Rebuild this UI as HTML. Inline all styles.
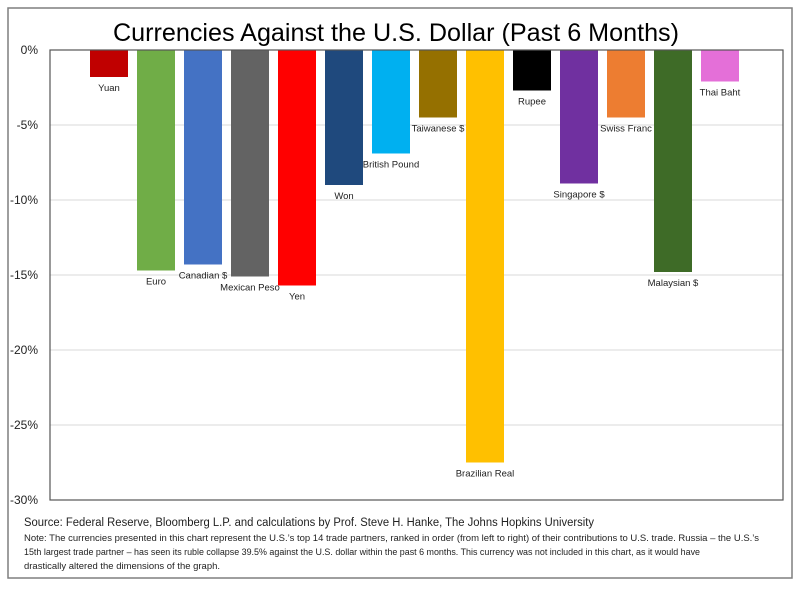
<!DOCTYPE html>
<html><head><meta charset="utf-8"><style>
body{margin:0;background:#fff;font-family:"Liberation Sans",sans-serif}
</style></head><body>
<svg width="800" height="587" xmlns="http://www.w3.org/2000/svg">
<rect x="8" y="8" width="784" height="570" fill="#fff" stroke="#7f7f7f" stroke-width="1.5"/>
<text x="396" y="41" text-anchor="middle" font-size="25" textLength="566" lengthAdjust="spacingAndGlyphs" fill="#000">Currencies Against the U.S. Dollar (Past 6 Months)</text>
<g id="grid"></g>
<g id="bars"></g>
<rect x="50" y="50" width="733" height="450" fill="none" stroke="#555" stroke-width="1.2"/>
<g id="yticks" font-size="12" fill="#222"></g>
<text x="24" y="526" font-size="11.5" textLength="570" lengthAdjust="spacingAndGlyphs" fill="#222">Source: Federal Reserve, Bloomberg L.P. and calculations by Prof. Steve H. Hanke, The Johns Hopkins University</text>
<g font-size="9.6" fill="#222">
<text x="24" y="541" textLength="735" lengthAdjust="spacingAndGlyphs">Note: The currencies presented in this chart represent the U.S.’s top 14 trade partners, ranked in order (from left to right) of their contributions to U.S. trade. Russia – the U.S.’s</text>
<text x="24" y="555" textLength="676" lengthAdjust="spacingAndGlyphs">15th largest trade partner – has seen its ruble collapse 39.5% against the U.S. dollar within the past 6 months. This currency was not included in this chart, as it would have</text>
<text x="24" y="569" textLength="196" lengthAdjust="spacingAndGlyphs">drastically altered the dimensions of the graph.</text>
</g>
</svg>
<script>
const categories=["Yuan","Euro","Canadian $","Mexican Peso","Yen","Won","British Pound","Taiwanese $","Brazilian Real","Rupee","Singapore $","Swiss Franc","Malaysian $","Thai Baht"];
const values=[-1.8,-14.7,-14.3,-15.1,-15.7,-9.0,-6.9,-4.5,-27.5,-2.7,-8.9,-4.5,-14.8,-2.1];
const colors=["#c00000","#70ad47","#4472c4","#636363","#ff0000","#1f497d","#00b0f0","#957000","#ffc000","#000000","#7030a0","#ed7d31","#3e6b27","#e46fd8"];
const yTicks=[0,-5,-10,-15,-20,-25,-30];
const NS="http://www.w3.org/2000/svg";
const y=v=>50+(-v)*15;
const xc=i=>109+i*47;
const grid=document.getElementById('grid'),bars=document.getElementById('bars'),yt=document.getElementById('yticks');
yTicks.forEach(t=>{
 const l=document.createElementNS(NS,'line');
 l.setAttribute('x1',50);l.setAttribute('x2',783);l.setAttribute('y1',y(t));l.setAttribute('y2',y(t));
 l.setAttribute('stroke','#d9d9d9');
 
 
 grid.appendChild(l);
 const tx=document.createElementNS(NS,'text');
 tx.setAttribute('x',38);tx.setAttribute('y',y(t)+4);tx.setAttribute('text-anchor','end');
 tx.textContent=t+'%';
 
 
 yt.appendChild(tx);
});
categories.forEach((c,i)=>{
 const r=document.createElementNS(NS,'rect');
 r.setAttribute('x',xc(i)-19);r.setAttribute('width',38);
 r.setAttribute('y',y(0));r.setAttribute('height',y(values[i])-y(0));
 r.setAttribute('fill',colors[i]);
 
 
 bars.appendChild(r);
 const tx=document.createElementNS(NS,'text');
 tx.setAttribute('x',xc(i));tx.setAttribute('y',y(values[i])+14);
 tx.setAttribute('text-anchor','middle');tx.setAttribute('font-size','9.5');tx.setAttribute('fill','#222');
 tx.textContent=c;
 
 
 bars.appendChild(tx);
});
</script>
</body></html>
